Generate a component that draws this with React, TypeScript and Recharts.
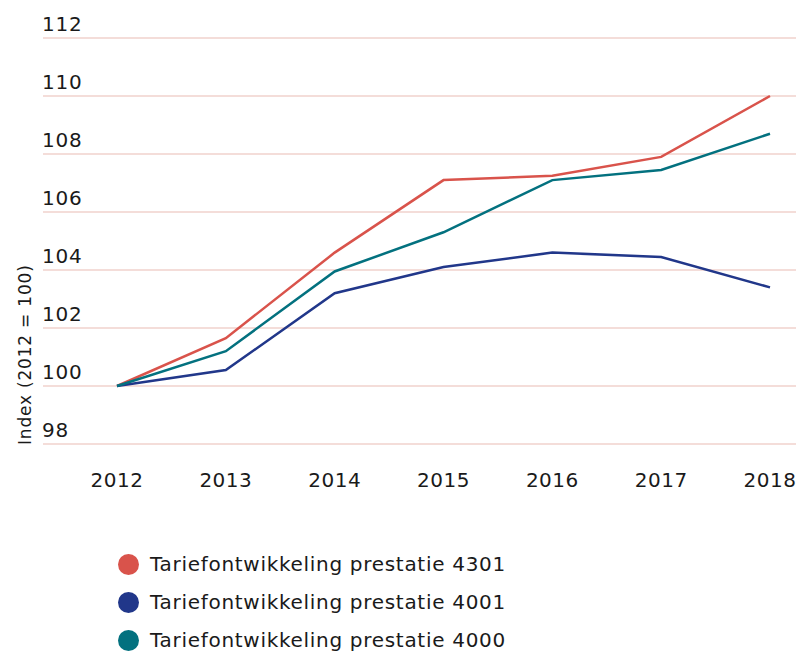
import React from "react";
import { LineChart, Line, XAxis, YAxis, CartesianGrid, Legend, Label } from "recharts";

const years = ["2012", "2013", "2014", "2015", "2016", "2017", "2018"];
const prestatie4301 = [100, 101.65, 104.6, 107.1, 107.25, 107.9, 110.0];
const prestatie4001 = [100, 100.55, 103.2, 104.1, 104.6, 104.45, 103.4];
const prestatie4000 = [100, 101.2, 103.95, 105.3, 107.1, 107.45, 108.7];
const yTicks = [98, 100, 102, 104, 106, 108, 110, 112];

const series = [
  { key: "p4301", name: "Tariefontwikkeling prestatie 4301", color: "#d9534b" },
  { key: "p4001", name: "Tariefontwikkeling prestatie 4001", color: "#21378a" },
  { key: "p4000", name: "Tariefontwikkeling prestatie 4000", color: "#03717f" },
];

const FONT = "'DejaVu Sans', Verdana, sans-serif";

function YTick({ y, payload }: any) {
  return (
    <text x={42} y={y - 7} fontSize={20} fill="#1a1a1a" fontFamily={FONT} textAnchor="start" letterSpacing={0.8}>
      {payload.value}
    </text>
  );
}

function XTick({ x, y, payload }: any) {
  return (
    <text x={x} y={y} dy="0.71em" fontSize={20} fill="#1a1a1a" fontFamily={FONT} textAnchor="middle" letterSpacing={0.5}>
      {payload.value}
    </text>
  );
}

function LegendList() {
  return (
    <div style={{ fontFamily: FONT, fontSize: 20, color: "#1a1a1a", letterSpacing: 0.7 }}>
      {series.map((s) => (
        <div key={s.key} style={{ display: "flex", alignItems: "center", height: 38 }}>
          <span
            style={{
              width: 21,
              height: 21,
              borderRadius: "50%",
              background: s.color,
              display: "inline-block",
              marginRight: 11,
            }}
          />
          <span>{s.name}</span>
        </div>
      ))}
    </div>
  );
}

export default function App() {
  const rows = years.map((year, i) => ({
    year,
    p4301: prestatie4301[i],
    p4001: prestatie4001[i],
    p4000: prestatie4000[i],
  }));

  return (
    <div style={{ position: "absolute", left: 0, top: 0, width: 796, height: 653, background: "#fff" }}>
      <LineChart width={796} height={653} data={rows} margin={{ top: 38, right: 0, bottom: 179, left: 0 }}>
        <CartesianGrid horizontal vertical={false} stroke="#f0d2cd" strokeWidth={1.5} />
        <XAxis
          dataKey="year"
          axisLine={false}
          tickLine={false}
          tickMargin={23}
          padding={{ left: 74, right: 26 }}
          tick={<XTick />}
        />
        <YAxis
          domain={[98, 112]}
          ticks={yTicks}
          width={43}
          axisLine={false}
          tickLine={false}
          tick={<YTick />}
        >
          <Label
            content={() => (
              <text
                x={31}
                y={445}
                transform="rotate(-90 31 445)"
                fontSize={17}
                fill="#1a1a1a"
                fontFamily={FONT}
                textAnchor="start"
                letterSpacing={0.8}
              >
                Index (2012 = 100)
              </text>
            )}
          />
        </YAxis>
        <Legend
          layout="vertical"
          align="center"
          verticalAlign="middle"
          content={<LegendList />}
          wrapperStyle={{ position: "absolute", top: 545, left: 118, width: 500 }}
        />
        {series.map((s) => (
          <Line
            key={s.key}
            type="linear"
            dataKey={s.key}
            name={s.name}
            stroke={s.color}
            strokeWidth={2.5}
            dot={false}
            isAnimationActive={false}
          />
        ))}
      </LineChart>
    </div>
  );
}
